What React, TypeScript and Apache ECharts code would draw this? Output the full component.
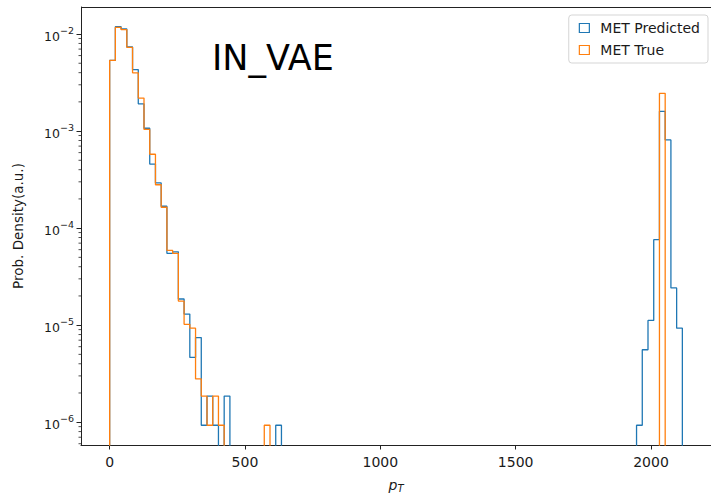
import React, { useEffect, useRef } from 'react';
import * as echarts from 'echarts';

// Histogram definition (100 bins between data min and max)
const BIN_MIN = 0;
const BIN_MAX = 2116;
const BIN_COUNT = 100;

// Densities for bins 0..29 (low pT region)
const predictedLow = [
  5.35e-3, 1.19e-2, 1.13e-2, 7.35e-3, 4.3e-3, 1.91e-3, 1.07e-3, 4.57e-4, 2.92e-4, 1.68e-4,
  5.5e-5, 5.7e-5, 1.86e-5, 1.3e-5, 4.65e-6, 7.44e-6, 9.3e-7, 1.86e-6, 9.3e-7, 0,
  1.86e-6, 0, 0, 0, 0, 0, 0, 0, 0, 9.3e-7,
];
const trueLow = [
  5.35e-3, 1.17e-2, 1.11e-2, 7.3e-3, 3.98e-3, 2.19e-3, 1.04e-3, 5.77e-4, 2.8e-4, 1.64e-4,
  5.9e-5, 5.5e-5, 1.77e-5, 1.02e-5, 9.3e-6, 2.79e-6, 1.86e-6, 9.3e-7, 1.86e-6, 9.3e-7,
  0, 0, 0, 0, 0, 0, 0, 9.3e-7, 0, 0,
];
// Densities for bins 92..99 (high pT region)
const HIGH_START = 92;
const predictedHigh = [9.3e-7, 5.58e-6, 1.12e-5, 7.6e-5, 1.6e-3, 8.1e-4, 2.42e-5, 9.3e-6];
const trueHigh = [0, 0, 0, 0, 2.45e-3, 0, 0, 0];

const SERIES_NAMES = ['MET Predicted', 'MET True'];
const COLORS = ['#1f77b4', '#ff7f0e'];

// Tick values
const X_TICKS = [0, 500, 1000, 1500, 2000];
const Y_TICKS = [1e-6, 1e-5, 1e-4, 1e-3, 1e-2];

const X_MIN = -105.8;
const X_MAX = 2221.8;
const Y_MIN = 5.82e-7;
const Y_MAX = 0.0190;
const FLOOR = 1e-9;
const FONT = 'DejaVu Sans';

function fullBins(low: number[], high: number[]): number[] {
  const bins: number[] = new Array(BIN_COUNT).fill(0);
  low.forEach((v, i) => (bins[i] = v));
  high.forEach((v, i) => (bins[HIGH_START + i] = v));
  return bins;
}

function stepData(density: number[]): number[][] {
  const w = (BIN_MAX - BIN_MIN) / BIN_COUNT;
  const pts: number[][] = [[BIN_MIN, FLOOR]];
  density.forEach((d, k) => pts.push([BIN_MIN + k * w, d > 0 ? d : FLOOR]));
  const last = density[density.length - 1];
  pts.push([BIN_MAX, last > 0 ? last : FLOOR]);
  pts.push([BIN_MAX, FLOOR]);
  return pts;
}

function minorTickValues(): number[] {
  const out: number[] = [];
  for (let e = -7; e <= -2; e++) {
    for (let k = 2; k <= 9; k++) {
      const v = k * Math.pow(10, e);
      if (v > Y_MIN && v < Y_MAX) out.push(v);
    }
  }
  return out;
}

export default function App() {
  const ref = useRef<HTMLDivElement>(null);
  useEffect(() => {
    if (!ref.current) return;
    const chart = echarts.init(ref.current, undefined, { renderer: 'svg' });
    const pred = fullBins(predictedLow, predictedHigh);
    const tru = fullBins(trueLow, trueHigh);
    const textColor = '#1a1a1a';
    const spine = '#222222';
    const option: any = {
      animation: false,
      backgroundColor: '#ffffff',
      textStyle: { fontFamily: FONT },
      // the axes box extends 3px past the right edge of the picture, as in the reference
      grid: { show: false, left: 81, right: -3, top: 7, bottom: 47, containLabel: false },
      legend: {
        data: SERIES_NAMES.map((n, i) => ({
          name: n,
          icon: 'rect',
          itemStyle: { color: '#ffffff', borderColor: COLORS[i], borderWidth: 1.2 },
        })),
        orient: 'vertical',
        right: 3,
        top: 15,
        itemWidth: 10,
        itemHeight: 9,
        itemGap: 8,
        padding: [6, 8, 6, 10],
        backgroundColor: '#ffffff',
        borderColor: '#d5d5d5',
        borderWidth: 1,
        borderRadius: 3,
        textStyle: { fontFamily: FONT, fontSize: 14, color: textColor, padding: [0, 0, 0, 6] },
      },
      xAxis: {
        type: 'value',
        min: X_MIN,
        max: X_MAX,
        splitLine: { show: false },
        axisLine: { show: true, onZero: false, lineStyle: { color: spine, width: 1 } },
        axisTick: { show: true, length: 4.5, customValues: X_TICKS, lineStyle: { color: spine } },
        axisLabel: {
          fontFamily: FONT,
          fontSize: 14,
          color: textColor,
          margin: 10,
          customValues: X_TICKS,
          formatter: (v: number) => (X_TICKS.some((t) => Math.abs(t - v) < 1e-6) ? String(v) : ''),
        },
        name: '{p|p}{t|T}',
        nameLocation: 'middle',
        nameGap: 32,
        nameTextStyle: {
          rich: {
            p: { fontFamily: FONT, fontSize: 14, fontStyle: 'italic', color: textColor },
            t: { fontFamily: FONT, fontSize: 10, fontStyle: 'italic', color: textColor, padding: [6, 0, 0, 0] },
          },
        },
      },
      yAxis: {
        type: 'log',
        logBase: 10,
        min: Y_MIN,
        max: Y_MAX,
        splitLine: { show: false },
        minorTick: { show: false },
        axisLine: { show: true, onZero: false, lineStyle: { color: spine, width: 1 } },
        axisTick: { show: true, length: 4.5, customValues: Y_TICKS, lineStyle: { color: spine } },
        axisLabel: {
          margin: 7,
          customValues: Y_TICKS,
          formatter: (v: number) => {
            const l = Math.log10(v);
            const r = Math.round(l);
            if (Math.abs(l - r) > 1e-6) return '';
            return `{b|10}{s|\u2212${-r}}`;
          },
          rich: {
            b: { fontFamily: FONT, fontSize: 12.5, color: textColor, padding: [5, 0, 0, 0] },
            s: { fontFamily: FONT, fontSize: 9.5, color: textColor, verticalAlign: 'top', padding: [0, 0, 6, 0] },
          },
        },
        name: 'Prob. Density(a.u.)',
        nameLocation: 'middle',
        nameGap: 56,
        nameTextStyle: { fontFamily: FONT, fontSize: 13.5, color: textColor },
      },
      graphic: [
        {
          // top spine of the axes frame
          type: 'line',
          shape: { x1: 81, y1: 7.5, x2: 711, y2: 7.5 },
          style: { stroke: spine, lineWidth: 1 },
          silent: true,
        },
        {
          type: 'text',
          left: 212,
          top: 40,
          style: { text: 'IN_VAE', font: `35px "${FONT}"`, fill: '#000' },
        },
      ],
      series: [
        {
          name: SERIES_NAMES[0],
          type: 'line',
          step: 'end',
          data: stepData(pred),
          showSymbol: false,
          symbol: 'none',
          lineStyle: { color: COLORS[0], width: 1.3 },
          itemStyle: { color: COLORS[0] },
          clip: true,
          z: 2,
        },
        {
          name: SERIES_NAMES[1],
          type: 'line',
          step: 'end',
          data: stepData(tru),
          showSymbol: false,
          symbol: 'none',
          lineStyle: { color: COLORS[1], width: 1.3 },
          itemStyle: { color: COLORS[1] },
          clip: true,
          z: 3,
        },
        {
          name: 'minor',
          type: 'custom',
          silent: true,
          clip: false,
          data: minorTickValues().map((v) => [X_MIN, v]),
          encode: { x: 0, y: 1 },
          renderItem: (_params: any, api: any) => {
            const p = api.coord([api.value(0), api.value(1)]);
            return {
              type: 'line',
              shape: { x1: p[0] - 2.5, y1: p[1], x2: p[0], y2: p[1] },
              style: { stroke: spine, lineWidth: 0.8 },
            };
          },
        },
      ],
    };
    chart.setOption(option);
    return () => chart.dispose();
  }, []);
  return <div ref={ref} style={{ width: 711, height: 498, position: 'absolute', left: 0, top: 0 }} />;
}
